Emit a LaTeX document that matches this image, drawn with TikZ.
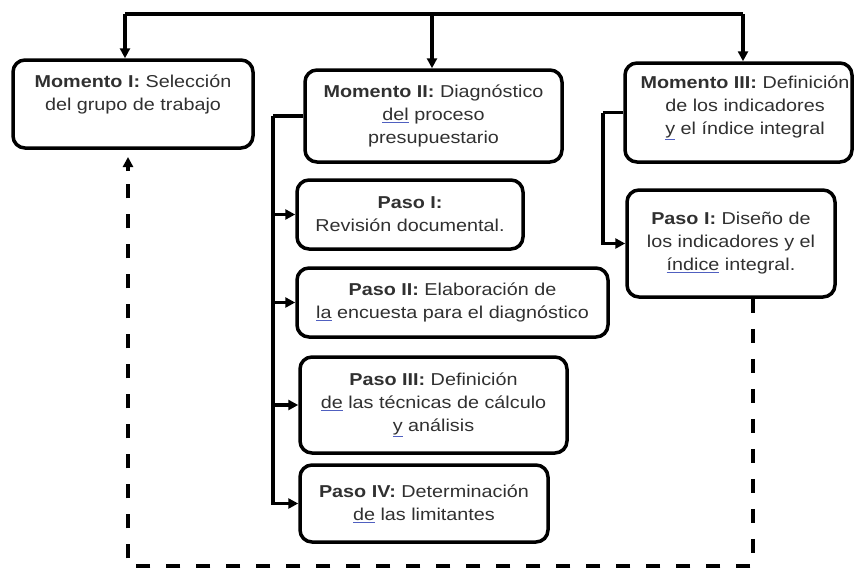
\documentclass[tikz,border=0pt]{standalone}
\usepackage{fontspec}
\setmainfont{Liberation Sans}[FakeStretch=1.15]
\usetikzlibrary{arrows.meta}
\definecolor{txt}{HTML}{303030}
\definecolor{squig}{HTML}{5060C0}
\newcommand\spl[1]{{\color{squig}\underline{\color{txt}#1}}}
\begin{document}
\begin{tikzpicture}[x=1pt,y=-1pt,
  box/.style={draw=black, line width=3.5pt, rounded corners=12pt, align=center, inner sep=2pt, text=txt, font=\fontsize{17.2}{23}\selectfont},
  lbl/.style={align=center, inner sep=0pt, text=txt, font=\fontsize{17.2}{23}\selectfont},
  conn/.style={line width=3.5pt},
  arr/.style={line width=3.5pt,-{Triangle[length=10pt,width=10pt]}},
  dsh/.style={line width=4pt, dash pattern=on 14pt off 16pt}]
\useasboundingbox (0,0) rectangle (854,568);

% boxes
\node[box, minimum width=240pt, minimum height=88pt] (m1) at (133,104)
  {\textbf{Momento I:} Selección\\del grupo de trabajo\\\mbox{}};
\node[box, minimum width=257pt, minimum height=92pt] (m2) at (433.5,116)
  {\textbf{Momento II:} Diagnóstico\\\spl{del} proceso\\presupuestario};
\node[box, minimum width=227pt, minimum height=99pt] (m3) at (738.5,112.5) {};
\node[lbl] (m3t) at (745,108)
  {\textbf{Momento III:} Definición\\de los indicadores\\\spl{y} el índice integral};
\node[box, minimum width=226pt, minimum height=69pt] (p1) at (410,214.5)
  {\textbf{Paso I:}\\Revisión documental.};
\node[box, minimum width=311pt, minimum height=69pt] (p2) at (452.5,302.5)
  {\textbf{Paso II:} Elaboración de\\\spl{la} encuesta para el diagnóstico};
\node[box, minimum width=267pt, minimum height=96pt] (p3) at (433.5,405)
  {\textbf{Paso III:} Definición\\\spl{de} las técnicas de cálculo\\\spl{y} análisis};
\node[box, minimum width=248pt, minimum height=77pt] (p4) at (424,503.5)
  {\textbf{Paso IV:} Determinación\\\spl{de} las limitantes};
\node[box, minimum width=208pt, minimum height=107pt] (q1) at (731,243.5)
  {\textbf{Paso I:} Diseño de\\los indicadores y el\\\spl{índice} integral.};

% top distribution line
\coordinate (t1) at (125,14);
\coordinate (t2) at (432,14);
\coordinate (t3) at (743,14);
\draw[conn] (t1) -- (t3);
\draw[arr] (t1) -- (t1 |- m1.north);
\draw[arr] (t2) -- (t2 |- m2.north);
\draw[arr] (t3) -- (t3 |- m3.north);

% Momento II branch
\coordinate (b2) at (273,116);
\draw[conn] (m2.west) -- (b2);
\draw[arr] (b2) |- (p4.west);
\draw[arr] (b2 |- p1.west) -- (p1.west);
\draw[arr] (b2 |- p2.west) -- (p2.west);
\draw[arr] (b2 |- p3.west) -- (p3.west);

% Momento III branch
\coordinate (b3) at (603,112.5);
\draw[conn] (m3.west) -- (b3);
\draw[arr] (b3) |- (q1.west);

% dashed feedback
\coordinate (dA) at (753,566);
\coordinate (dB) at (128,566);
\coordinate (tb) at (128,171);
\coordinate (tt) at (128,157);
\draw[dsh] (q1.south -| dA) -- (dA) -- (dB) -- (128,178);
\draw[arr] (tb) -- (tt);
\end{tikzpicture}
\end{document}
